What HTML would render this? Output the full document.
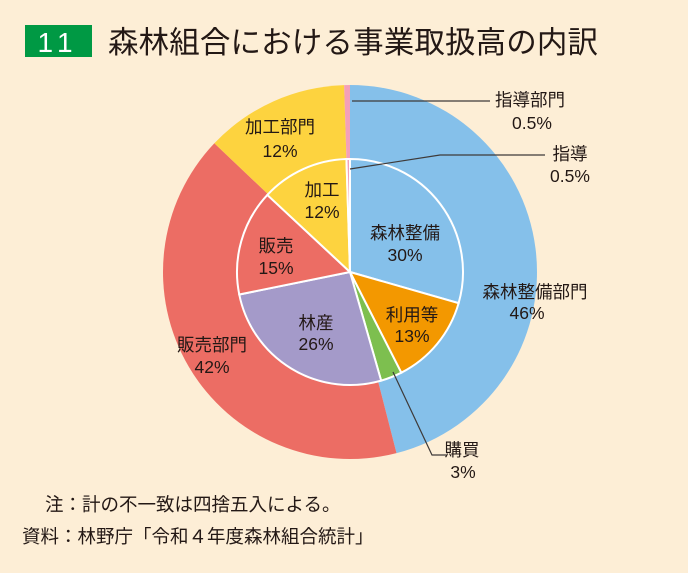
<!DOCTYPE html>
<html><head><meta charset="utf-8"><style>
body{margin:0;background:#fdeed6;}
svg{display:block;font-family:"Liberation Sans","Noto Sans CJK JP",sans-serif;}
</style></head><body>
<svg width="688" height="573" viewBox="0 0 688 573" xmlns="http://www.w3.org/2000/svg">
<rect width="688" height="573" fill="#fdeed6"/>
<rect x="25" y="25" width="67" height="32" fill="#009944"/>
<text x="58" y="52" font-size="28" fill="#fff" text-anchor="middle" letter-spacing="6">11</text>
<text x="108" y="53" font-size="30.5" fill="#231815" textLength="490">森林組合における事業取扱高の内訳</text>
<g id="pie"></g>
<g font-size="17.5" fill="#231815" text-anchor="middle">
<text x="530" y="106">指導部門</text><text x="532" y="129">0.5%</text>
<text x="570" y="160">指導</text><text x="570" y="182">0.5%</text>
<text x="535" y="298">森林整備部門</text><text x="527" y="319">46%</text>
<text x="462" y="456">購買</text><text x="463" y="478">3%</text>
<text x="212" y="351">販売部門</text><text x="212" y="373">42%</text>
<text x="280" y="133">加工部門</text><text x="280" y="157">12%</text>
<text x="322" y="196">加工</text><text x="322" y="218">12%</text>
<text x="276" y="252">販売</text><text x="276" y="274">15%</text>
<text x="405" y="239">森林整備</text><text x="405" y="261">30%</text>
<text x="412" y="321">利用等</text><text x="412" y="342">13%</text>
<text x="316" y="329">林産</text><text x="316" y="350">26%</text>
</g>
<g stroke="#3e3a39" stroke-width="1.2" fill="none">
<polyline points="352,101 490,101"/>
<polyline points="350,169 440,155 545,155"/>
<polyline points="393,372 432,455 446,455"/>
</g>
<g font-size="18.5" fill="#231815">
<text x="45" y="511">注：計の不一致は四捨五入による。</text>
<text x="22" y="543">資料：林野庁「令和４年度森林組合統計」</text>
</g>
<script>
(function(){
var cx=350,cy=272,R=187,r=113,g=document.getElementById('pie');
function pt(a,rad){a=a*Math.PI/180;return [cx+rad*Math.sin(a),cy-rad*Math.cos(a)];}
function sl(a0,a1,rad,c,stroke){var p0=pt(a0,rad),p1=pt(a1,rad),l=(a1-a0)>180?1:0;
var e=document.createElementNS('http://www.w3.org/2000/svg','path');
e.setAttribute('d','M'+cx+','+cy+'L'+p0[0]+','+p0[1]+'A'+rad+','+rad+' 0 '+l+' 1 '+p1[0]+','+p1[1]+'Z');
e.setAttribute('fill',c);if(stroke){e.setAttribute('stroke','#fff');e.setAttribute('stroke-width','2');}
g.appendChild(e);}
var o=[[0,165.6,'#85c0ea'],[165.6,313.5,'#ec6d64'],[313.5,358.2,'#fdd33f'],[358.2,360,'#f4a0b8']];
o.forEach(function(s){sl(s[0],s[1],R,s[2],false);});
var i=[[0,106,'#85c0ea'],[106,153,'#f39800'],[153,164,'#7dbf4f'],[164,258.5,'#a49ac9'],[258.5,313,'#ec6d64'],[313,358.2,'#fdd33f'],[358.2,360,'#f4a0b8']];
i.forEach(function(s){sl(s[0],s[1],r,s[2],true);});
})();
</script>
</svg>
</body></html>
